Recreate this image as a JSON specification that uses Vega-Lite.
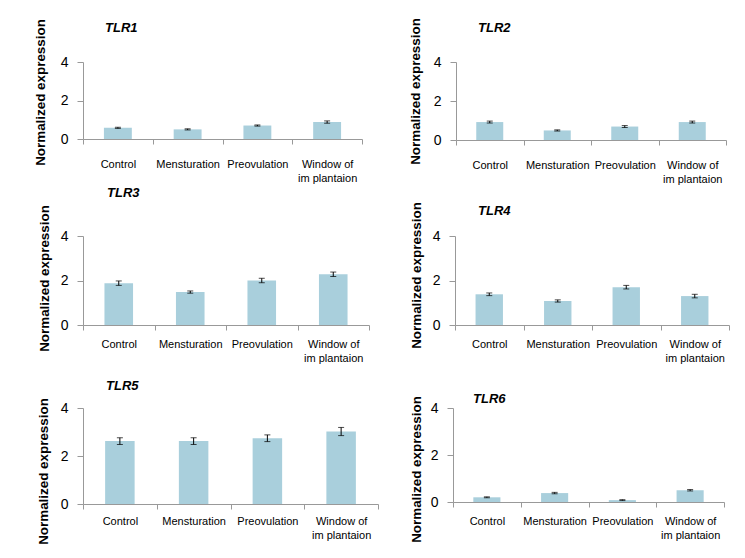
{
  "$schema": "https://vega.github.io/schema/vega-lite/v6.json",
  "padding": {"left": 32, "top": 17, "right": 0, "bottom": 0},
  "background": "white",
  "datasets": {
    "d": [
      {"gene": "TLR1", "stage": "Control", "value": 0.58, "err": 0.03},
      {"gene": "TLR1", "stage": "Mensturation", "value": 0.5, "err": 0.03},
      {"gene": "TLR1", "stage": "Preovulation", "value": 0.7, "err": 0.03},
      {"gene": "TLR1", "stage": "Window of im plantaion", "value": 0.88, "err": 0.06},
      {"gene": "TLR2", "stage": "Control", "value": 0.92, "err": 0.05},
      {"gene": "TLR2", "stage": "Mensturation", "value": 0.49, "err": 0.03},
      {"gene": "TLR2", "stage": "Preovulation", "value": 0.69, "err": 0.05},
      {"gene": "TLR2", "stage": "Window of im plantaion", "value": 0.92, "err": 0.05},
      {"gene": "TLR3", "stage": "Control", "value": 1.88, "err": 0.1},
      {"gene": "TLR3", "stage": "Mensturation", "value": 1.48, "err": 0.05},
      {"gene": "TLR3", "stage": "Preovulation", "value": 2.0, "err": 0.1},
      {"gene": "TLR3", "stage": "Window of im plantaion", "value": 2.28, "err": 0.1},
      {"gene": "TLR4", "stage": "Control", "value": 1.38, "err": 0.06},
      {"gene": "TLR4", "stage": "Mensturation", "value": 1.08, "err": 0.05},
      {"gene": "TLR4", "stage": "Preovulation", "value": 1.7, "err": 0.08},
      {"gene": "TLR4", "stage": "Window of im plantaion", "value": 1.3, "err": 0.08},
      {"gene": "TLR5", "stage": "Control", "value": 2.62, "err": 0.14},
      {"gene": "TLR5", "stage": "Mensturation", "value": 2.62, "err": 0.14},
      {"gene": "TLR5", "stage": "Preovulation", "value": 2.74, "err": 0.14},
      {"gene": "TLR5", "stage": "Window of im plantaion", "value": 3.02, "err": 0.17},
      {"gene": "TLR6", "stage": "Control", "value": 0.2, "err": 0.02},
      {"gene": "TLR6", "stage": "Mensturation", "value": 0.38, "err": 0.03},
      {"gene": "TLR6", "stage": "Preovulation", "value": 0.08, "err": 0.02},
      {"gene": "TLR6", "stage": "Window of im plantaion", "value": 0.5, "err": 0.03}
    ]
  },
  "bounds": "flush",
  "spacing": 174,
  "vconcat": [
    {
      "bounds": "flush",
      "spacing": 94,
      "hconcat": [
        {
          "width": 279, "height": 77,
          "title": {"text": "TLR1", "dx": 22, "dy": 20},
          "data": {"name": "d"},
          "transform": [{"filter": "datum.gene == 'TLR1'"}],
          "encoding": {
            "x": {"field": "stage", "type": "nominal", "sort": null, "title": null, "scale": {"paddingInner": 0, "paddingOuter": 0}, "axis": {"labelPadding": 14}},
            "y": {"field": "value", "type": "quantitative", "scale": {"domain": [0, 4]}, "axis": {"values": [0, 2, 4], "title": "Normalized expression", "titleX": -43, "titleY": 30}}
          },
          "layer": [
            {"mark": {"type": "bar", "color": "#a9cfdc", "width": {"band": 0.4}}},
            {"mark": {"type": "errorbar", "color": "black", "ticks": {"size": 6}}, "encoding": {"yError": {"field": "err"}}}
          ]
        },
        {
          "width": 270, "height": 78,
          "title": {"text": "TLR2", "dx": 22, "dy": 21},
          "data": {"name": "d"},
          "transform": [{"filter": "datum.gene == 'TLR2'"}],
          "encoding": {
            "x": {"field": "stage", "type": "nominal", "sort": null, "title": null, "scale": {"paddingInner": 0, "paddingOuter": 0}, "axis": {"labelPadding": 14}},
            "y": {"field": "value", "type": "quantitative", "scale": {"domain": [0, 4]}, "axis": {"values": [0, 2, 4], "title": "Normalized expression", "titleX": -41, "titleY": 29}}
          },
          "layer": [
            {"mark": {"type": "bar", "color": "#a9cfdc", "width": {"band": 0.4}}},
            {"mark": {"type": "errorbar", "color": "black", "ticks": {"size": 6}}, "encoding": {"yError": {"field": "err"}}}
          ]
        }
      ]
    },
    {
      "bounds": "flush",
      "spacing": 172,
      "vconcat": [
        {
          "bounds": "flush",
          "spacing": 86,
          "hconcat": [
            {
              "width": 286, "height": 89,
              "title": {"text": "TLR3", "dx": 24, "dy": -1},
              "data": {"name": "d"},
              "transform": [{"filter": "datum.gene == 'TLR3'"}],
              "encoding": {
                "x": {"field": "stage", "type": "nominal", "sort": null, "title": null, "scale": {"paddingInner": 0, "paddingOuter": 0}, "axis": {"labelPadding": 8}},
                "y": {"field": "value", "type": "quantitative", "scale": {"domain": [0, 4]}, "axis": {"values": [0, 2, 4], "title": "Normalized expression", "titleX": -39, "titleY": 42}}
              },
              "layer": [
                {"mark": {"type": "bar", "color": "#a9cfdc", "width": {"band": 0.4}}},
                {"mark": {"type": "errorbar", "color": "black", "ticks": {"size": 6}}, "encoding": {"yError": {"field": "err"}}}
              ]
            },
            {
              "width": 274, "height": 89,
              "title": {"text": "TLR4", "dx": 23, "dy": 20},
              "data": {"name": "d"},
              "transform": [{"filter": "datum.gene == 'TLR4'"}],
              "encoding": {
                "x": {"field": "stage", "type": "nominal", "sort": null, "title": null, "scale": {"paddingInner": 0, "paddingOuter": 0}, "axis": {"labelPadding": 8}},
                "y": {"field": "value", "type": "quantitative", "scale": {"domain": [0, 4]}, "axis": {"values": [0, 2, 4], "title": "Normalized expression", "titleX": -39, "titleY": 39}}
              },
              "layer": [
                {"mark": {"type": "bar", "color": "#a9cfdc", "width": {"band": 0.4}}},
                {"mark": {"type": "errorbar", "color": "black", "ticks": {"size": 6}}, "encoding": {"yError": {"field": "err"}}}
              ]
            }
          ]
        },
        {
          "bounds": "flush",
          "spacing": 75,
          "hconcat": [
            {
              "width": 295, "height": 96,
              "title": {"text": "TLR5", "dx": 23, "dy": -1},
              "data": {"name": "d"},
              "transform": [{"filter": "datum.gene == 'TLR5'"}],
              "encoding": {
                "x": {"field": "stage", "type": "nominal", "sort": null, "title": null, "scale": {"paddingInner": 0, "paddingOuter": 0}, "axis": {"labelPadding": 6}},
                "y": {"field": "value", "type": "quantitative", "scale": {"domain": [0, 4]}, "axis": {"values": [0, 2, 4], "title": "Normalized expression", "titleX": -40, "titleY": 63}}
              },
              "layer": [
                {"mark": {"type": "bar", "color": "#a9cfdc", "width": {"band": 0.4}}},
                {"mark": {"type": "errorbar", "color": "black", "ticks": {"size": 6}}, "encoding": {"yError": {"field": "err"}}}
              ]
            },
            {
              "width": 271, "height": 94,
              "title": {"text": "TLR6", "dx": 20, "dy": 14},
              "data": {"name": "d"},
              "transform": [{"filter": "datum.gene == 'TLR6'"}],
              "encoding": {
                "x": {"field": "stage", "type": "nominal", "sort": null, "title": null, "scale": {"paddingInner": 0, "paddingOuter": 0}, "axis": {"labelPadding": 8}},
                "y": {"field": "value", "type": "quantitative", "scale": {"domain": [0, 4]}, "axis": {"values": [0, 2, 4], "title": "Normalized expression", "titleX": -37, "titleY": 61}}
              },
              "layer": [
                {"mark": {"type": "bar", "color": "#a9cfdc", "width": {"band": 0.4}}},
                {"mark": {"type": "errorbar", "color": "black", "ticks": {"size": 6}}, "encoding": {"yError": {"field": "err"}}}
              ]
            }
          ]
        }
      ]
    }
  ],
  "config": {
    "view": {"stroke": null},
    "font": "Liberation Sans",
    "title": {"font": "Liberation Sans", "fontSize": 13, "fontStyle": "italic", "fontWeight": "bold", "anchor": "start", "frame": "group", "color": "black", "offset": 0},
    "axis": {"grid": false, "domainColor": "#999999", "tickColor": "#999999", "labelFont": "Liberation Sans", "labelColor": "black", "titleFont": "Liberation Sans", "titleColor": "black"},
    "axisX": {"labelAngle": 0, "tickBand": "extent", "labelFontSize": 11, "tickSize": 5, "labelLineHeight": 14, "labelExpr": "datum.value == 'Window of im plantaion' ? ['Window of', 'im plantaion'] : datum.value"},
    "axisY": {"labelFontSize": 14, "tickSize": 6, "labelPadding": 9, "titleFontSize": 13.4, "titleFontWeight": "bold", "titleAlign": "center", "titleBaseline": "middle", "titleAngle": -90}
  }
}
